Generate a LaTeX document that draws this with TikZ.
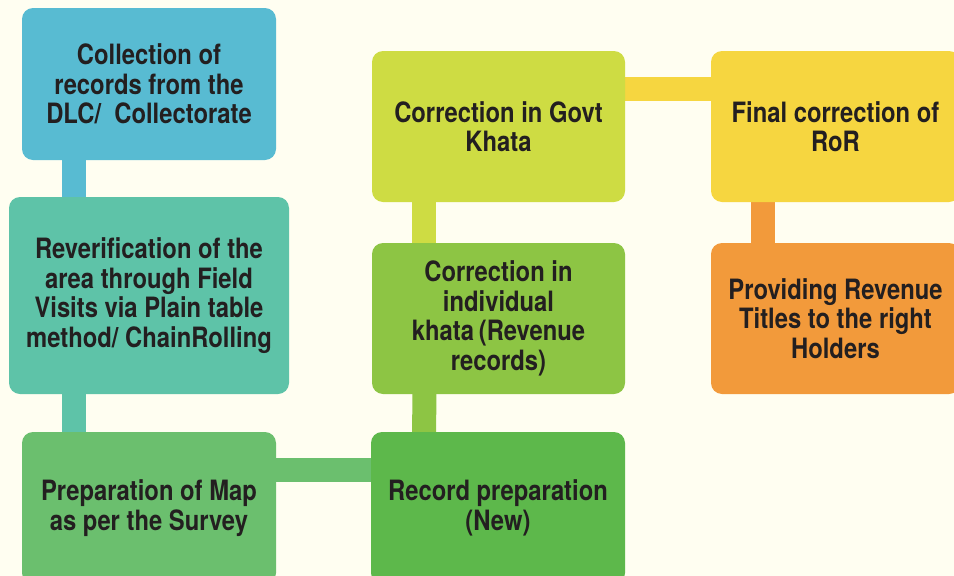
\documentclass[tikz,border=0pt]{standalone}
\usepackage{fontspec}
\setmainfont{TeX Gyre Heros}[FakeStretch=0.85]
\usepackage{tikz}
\usetikzlibrary{positioning,backgrounds}

\definecolor{pagebg}{HTML}{FFFEF1}
\definecolor{inkc}{HTML}{231F20}
\definecolor{blueC}{HTML}{58BBD2}
\definecolor{tealC}{HTML}{5EC3A8}
\definecolor{mapC}{HTML}{6BBF6E}
\definecolor{recC}{HTML}{5DB84B}
\definecolor{indC}{HTML}{8DC544}
\definecolor{govC}{HTML}{CEDC43}
\definecolor{rorC}{HTML}{F6D640}
\definecolor{orgC}{HTML}{F29A3B}

\begin{document}
\begin{tikzpicture}[x=1pt,y=-1pt,
  box/.style={fill=#1,rounded corners=11pt,align=center,inner sep=0pt,
    text=inkc,font=\fontsize{28}{29.5}\selectfont\bfseries},
  bar/.style={line width=24pt,draw=#1}]
\useasboundingbox (0,0) rectangle (954,576);
\clip (0,0) rectangle (954,576);

% left column
\node[box=blueC,minimum width=254pt,minimum height=152pt] (collect) at (149,84)
  {Collection of\\records from the\\DLC/\ \ Collectorate};
\node[box=tealC,minimum width=280pt,minimum height=197pt] (reverif) at (149,295.5)
  {Reverification of the\\area through Field\\Visits via Plain table\\method/ ChainRolling};
\node[box=mapC,minimum width=254pt,minimum height=152pt] (map) at (149,508)
  {Preparation of Map\\as per the Survey};

% middle column
\node[box=recC,minimum width=254pt,minimum height=152pt] (record) at (498,508)
  {Record preparation\\(New)};
\node[box=indC,minimum width=253pt,minimum height=151pt] (indiv) at (498.5,318.5)
  {Correction in\\individual\\khata\,(Revenue\\records)};
\node[box=govC,minimum width=253pt,minimum height=151pt] (govt) at (498.5,126.5)
  {Correction in Govt\\Khata};

% right column
\node[box=rorC,minimum width=249pt,minimum height=151pt] (ror) at (835.5,126.5)
  {Final correction of\\RoR};
\node[box=orgC,minimum width=249pt,minimum height=151pt] (titles) at (835.5,318.5)
  {Providing Revenue\\Titles to the right\\Holders};

% links
\begin{scope}[on background layer]
\fill[pagebg] (0,0) rectangle (954,576);
\draw[bar=blueC] ([xshift=-75pt]collect.center) -- ([xshift=-75pt]reverif.center);
\draw[bar=tealC] ([xshift=-75pt]reverif.center) -- ([xshift=-75pt]map.center);
\draw[bar=mapC] ([yshift=38pt]map.center) -- ([yshift=38pt]record.center);
\draw[bar=indC] ([xshift=-74pt]record.center) -- ([xshift=-74pt]indiv.center);
\draw[bar=govC] ([xshift=-74.5pt]indiv.center) -- ([xshift=-74.5pt]govt.center);
\draw[bar=rorC] ([yshift=37.5pt]govt.center) -- ([yshift=37.5pt]ror.center);
\draw[bar=orgC] ([xshift=-72.5pt]ror.center) -- ([xshift=-72.5pt]titles.center);
\end{scope}
\end{tikzpicture}
\end{document}
